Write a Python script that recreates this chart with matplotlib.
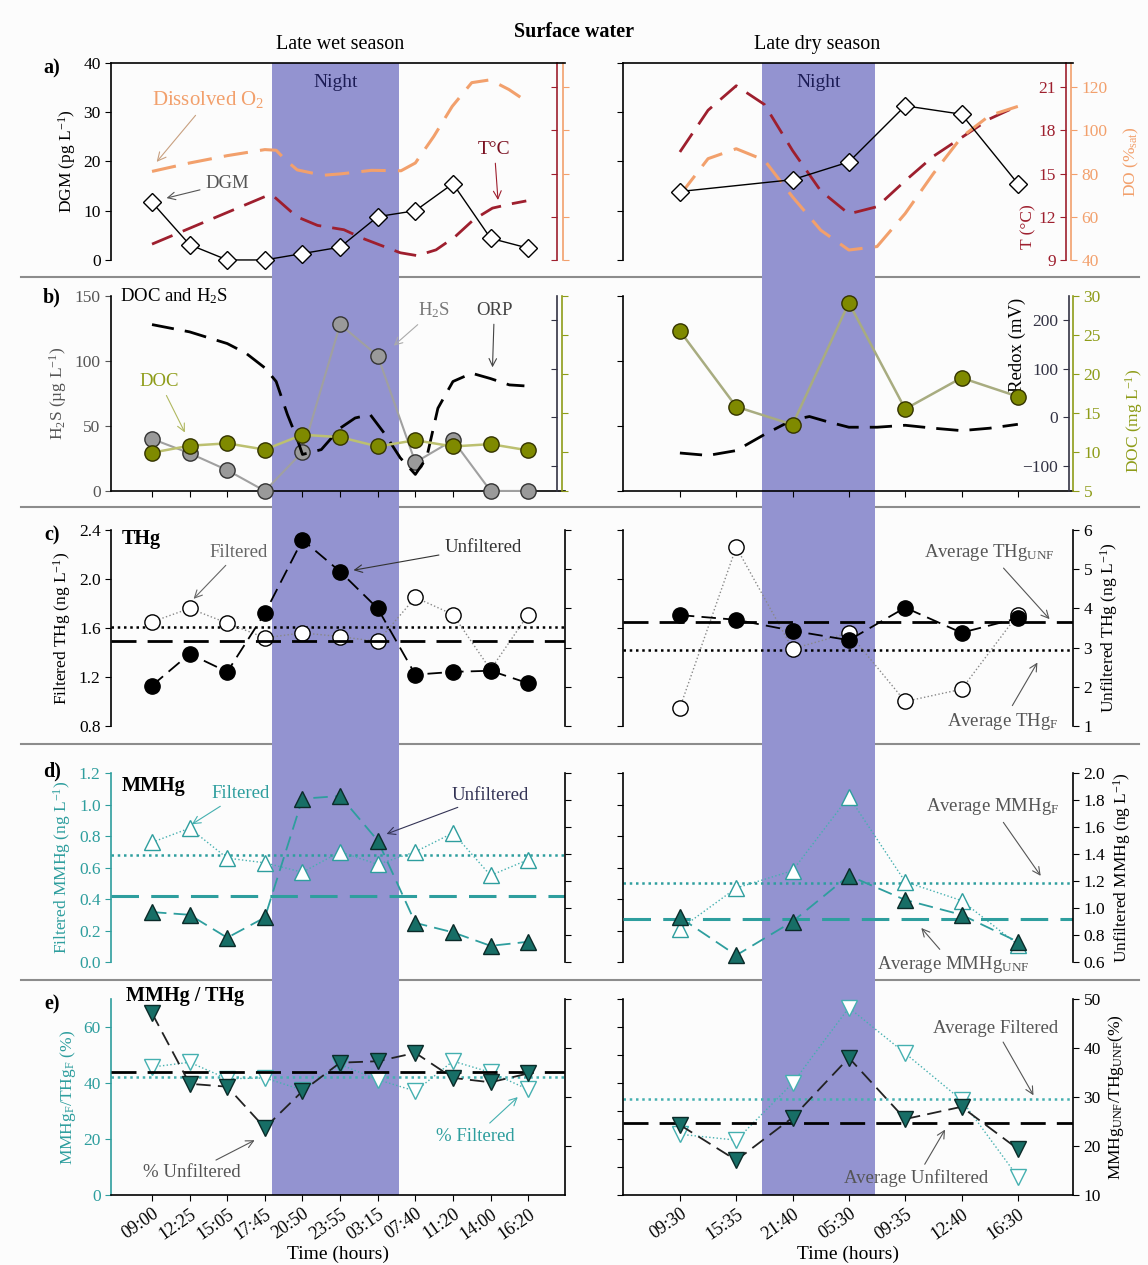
import matplotlib
matplotlib.use('Agg')
import matplotlib.pyplot as plt
import matplotlib.transforms as mtransforms
from matplotlib.patches import Rectangle
from matplotlib.lines import Line2D

# ---------------- data ----------------
wet_times = ['09:00', '12:25', '15:05', '17:45', '20:50', '23:55', '03:15', '07:40', '11:20', '14:00', '16:20']
dry_times = ['09:30', '15:35', '21:40', '05:30', '09:35', '12:40', '16:30']
wet_x = list(range(len(wet_times)))
dry_x = list(range(len(dry_times)))

# a) DGM (pg/L), temperature (C), dissolved O2 (% sat)
wet_dgm = [11.7, 3.1, 0.0, 0.0, 1.3, 2.6, 8.8, 10.0, 15.5, 4.4, 2.4]
dry_dgm_x = [0, 2, 3, 4, 5, 6]
dry_dgm = [13.9, 16.3, 19.9, 31.3, 29.6, 15.5]
wet_temp_x = [0, 1, 2, 3, 3.2, 3.85, 4.4, 5.1, 5.6, 6.1, 6.6, 7.05, 7.55, 8.05, 8.55, 9.05, 9.55, 9.95]
wet_temp = [10.1, 11.2, 12.3, 13.4, 13.5, 12.0, 11.4, 11.1, 10.5, 10.0, 9.5, 9.3, 9.7, 10.6, 11.8, 12.6, 12.9, 13.1]
wet_do_x = [0, 1, 2, 3, 3.3, 3.55, 3.86, 4.54, 5.04, 5.83, 6.62, 7.0, 7.49, 7.98, 8.5, 8.99, 9.49, 9.9]
wet_do = [81.0, 84.9, 88.3, 91.1, 90.8, 86.3, 81.7, 79.2, 79.9, 81.5, 81.3, 84.9, 97.2, 111.1, 122.1, 123.4, 118.9, 114.1]
dry_temp_x = [0, 0.5, 1, 1.5, 2, 2.5, 3, 3.5, 4, 4.5, 5, 5.5, 6]
dry_temp = [16.5, 19.4, 21.1, 19.8, 16.6, 13.8, 12.2, 12.7, 14.5, 16.2, 17.5, 18.8, 19.7]
dry_do_x = [0, 0.5, 1, 1.5, 2, 2.5, 3, 3.5, 4, 4.5, 5, 5.5, 6]
dry_do = [70, 86.9, 91.5, 86.2, 69.2, 53.8, 44.6, 46.2, 61.5, 80, 96.9, 106.9, 111.1]

# b) H2S (ug/L), DOC (mg/L), ORP (mV)
wet_h2s = [40, 29, 16, 0, 30, 128, 104, 22, 39, 0, 0]
wet_doc = [9.9, 10.8, 11.1, 10.3, 12.2, 11.9, 10.7, 11.5, 10.7, 11.0, 10.2]
wet_orp_x = [0, 1, 2, 2.5, 3, 3.3, 3.6, 3.85, 4, 4.5, 5, 5.4, 5.8, 6.2, 6.6, 7, 7.3, 7.6, 8, 8.5, 9, 9.5, 9.9]
wet_orp = [191, 176, 152, 132, 102, 74, 6, -42, -76, -66, -22, -1, 6, -35, -83, -117, -83, 19, 74, 91, 80, 67, 65]
dry_doc = [25.5, 15.8, 13.5, 29.1, 15.5, 19.5, 17.1]
dry_orp_x = [0, 0.5, 1, 1.5, 2, 2.3, 2.6, 3, 3.5, 4, 4.5, 5, 5.5, 6]
dry_orp = [-73, -78, -68, -35, -5, 2, -8, -20, -20, -16, -22, -27, -22, -14]

# c) THg (ng/L)
wet_thg_f = [1.65, 1.76, 1.64, 1.52, 1.56, 1.53, 1.49, 1.85, 1.71, 1.26, 1.71]
wet_thg_unf = [2.03, 2.84, 2.38, 3.88, 5.75, 4.94, 4.00, 2.31, 2.38, 2.41, 2.09]
wet_thg_f_avg = 1.61
wet_thg_unf_avg = 3.16
dry_thg_f = [0.95, 2.26, 1.43, 1.56, 1.00, 1.10, 1.71]
dry_thg_unf = [3.83, 3.71, 3.43, 3.19, 4.02, 3.38, 3.75]
dry_thg_f_avg = 1.42
dry_thg_unf_avg = 3.65

# d) MMHg (ng/L)
wet_mmhg_f = [0.76, 0.85, 0.66, 0.63, 0.57, 0.70, 0.62, 0.70, 0.82, 0.55, 0.65]
wet_mmhg_unf = [0.97, 0.95, 0.78, 0.93, 1.81, 1.83, 1.50, 0.89, 0.82, 0.72, 0.75]
wet_mmhg_f_avg = 0.68
wet_mmhg_unf_avg = 1.09
dry_mmhg_f = [0.21, 0.47, 0.58, 1.05, 0.51, 0.39, 0.11]
dry_mmhg_unf = [0.93, 0.65, 0.90, 1.24, 1.06, 0.95, 0.75]
dry_mmhg_f_avg = 0.50
dry_mmhg_unf_avg = 0.92

# e) MMHg / THg (%)
wet_ratio_f = [45.7, 47.4, 41.5, 41.8, 37.5, 46.6, 41.2, 37.1, 47.8, 43.8, 37.7]
wet_ratio_unf = [47.1, 32.7, 32.1, 23.7, 31.2, 37.0, 37.3, 39.0, 33.9, 33.0, 34.8]
wet_ratio_f_avg = 42.2
wet_ratio_unf_avg = 35.1
dry_ratio_f = [21.7, 19.6, 39.9, 66.9, 50.6, 33.9, 6.5]
dry_ratio_unf = [24.3, 17.1, 25.8, 38.0, 25.5, 28.0, 19.4]
dry_ratio_f_avg = 34.3
dry_ratio_unf_avg = 24.6

night_wet = (3.2, 6.57)
night_dry = (1.46, 3.46)

# ---------------- style ----------------
plt.rcParams['font.family'] = 'Liberation Serif'
plt.rcParams['mathtext.fontset'] = 'custom'
plt.rcParams['mathtext.rm'] = 'Liberation Serif'
plt.rcParams['mathtext.it'] = 'Liberation Serif:italic'
plt.rcParams['mathtext.bf'] = 'Liberation Serif:bold'
plt.rcParams['mathtext.default'] = 'regular'
plt.rcParams['font.size'] = 12.5
plt.rcParams['axes.linewidth'] = 1.2
plt.rcParams['xtick.major.size'] = 4
plt.rcParams['ytick.major.size'] = 4

BAND = '#9393d0'
TEAL = '#2e9e9e'
TEAL_D = '#176e66'
TEAL_L = '#45b0b0'
OLIVE = '#7f8a00'
OLIVE_T = '#8e9c18'
ORANGE = '#f2a06c'
DRED = '#9e1f2e'
DASH = (0, (8, 4))
TXT = 13.5

fig = plt.figure(figsize=(11.48, 12.65), dpi=100)
fig.patch.set_facecolor('#fcfcfc')

LX, LW = 0.0967, 0.3955
RX, RW = 0.5427, 0.392
rows = {'a': (0.7945, 0.1557), 'b': (0.6119, 0.1542), 'c': (0.4261, 0.1549),
        'd': (0.2395, 0.1494), 'e': (0.0553, 0.155)}


def make_ax(col, row):
    x0, w = (LX, LW) if col == 0 else (RX, RW)
    y0, h = rows[row]
    ax = fig.add_axes([x0, y0, w, h])
    ax.set_facecolor('none')
    ax.set_xlim((-1.09, 10.98) if col == 0 else (-1.01, 6.98))
    for s in ['top', 'right', 'bottom']:
        ax.spines[s].set_visible(False)
    ax.set_xticks([])
    if col == 1:
        ax.tick_params(axis='y', labelleft=False)
    return ax


def side_axis(ax, pos, side, color, ylim, ticks, labels_on, fmt=None):
    tw = ax.twinx()
    for s in tw.spines.values():
        s.set_visible(False)
    sp = tw.spines[side]
    sp.set_visible(True)
    sp.set_position(('axes', pos))
    sp.set_color(color)
    if side == 'left':
        tw.yaxis.tick_left()
    else:
        tw.yaxis.tick_right()
    tw.set_ylim(ylim)
    tw.set_yticks(ticks)
    if fmt:
        tw.set_yticklabels([fmt.format(t) for t in ticks])
    tw.tick_params(axis='y', colors=color,
                   labelleft=labels_on and side == 'left',
                   labelright=labels_on and side == 'right')
    return tw


def arrow(ax, text, xy, xytext, color='black', tcolor=None, size=TXT, **kw):
    ax.annotate(text, xy=xy, xytext=xytext, color=tcolor or color, fontsize=size,
                ha=kw.pop('ha', 'center'), va=kw.pop('va', 'center'),
                arrowprops=dict(arrowstyle='->', color=color, lw=0.8, shrinkA=2, shrinkB=1), **kw)


mk = dict(clip_on=False, zorder=5)

# ---------------- a) ----------------
for col in (0, 1):
    ax = make_ax(col, 'a')
    ax.spines['top'].set_visible(True)
    ax.set_ylim(0, 40)
    ax.set_yticks([0, 10, 20, 30, 40])
    pos_t, pos_do = (0.982, 0.996) if col == 0 else (0.985, 0.996)
    tw_t = side_axis(ax, pos_t, 'left', DRED, (9, 22.68), [9, 12, 15, 18, 21], col == 1)
    tw_do = side_axis(ax, pos_do, 'right', ORANGE, (40, 131.2), [40, 60, 80, 100, 120], col == 1)
    ax.set_zorder(3)
    if col == 0:
        ax.set_ylabel('DGM (pg L$^{-1}$)')
        tw_t.plot(wet_temp_x, wet_temp, color=DRED, lw=2, ls=DASH)
        tw_do.plot(wet_do_x, wet_do, color=ORANGE, lw=2.2, ls=DASH)
        ax.plot(wet_x, wet_dgm, color='black', lw=1, marker='D', ms=9, mfc='white', mec='black', **mk)
        arrow(ax, 'Dissolved O$_2$', (0.1, 19.7), (1.5, 32.5), color='#c8a080', tcolor=ORANGE, size=15)
        arrow(ax, 'DGM', (0.35, 12.5), (2.0, 15.6), color='#555555')
        arrow(ax, 'T°C', (9.2, 11.9), (9.1, 22.5), color=DRED, tcolor='#7a1020', size=14)
        ax.text(4.88, 36, 'Night', ha='center', va='center', fontsize=14, color='#1c1c55')
    else:
        tw_t.plot(dry_temp_x, dry_temp, color=DRED, lw=2, ls=DASH)
        tw_do.plot(dry_do_x, dry_do, color=ORANGE, lw=2.2, ls=DASH)
        ax.plot(dry_dgm_x, dry_dgm, color='black', lw=1, marker='D', ms=9, mfc='white', mec='black', **mk)
        ax.text(2.46, 36, 'Night', ha='center', va='center', fontsize=14, color='#1c1c55')
        ax.text(0.9, 0.17, 'T (°C)', transform=ax.transAxes, rotation=90, ha='center', va='center', color=DRED)
        ax.text(1.13, 0.5, 'DO (%$_{sat}$)', transform=ax.transAxes, rotation=90, ha='center', va='center', color=ORANGE)

# ---------------- b) ----------------
for col in (0, 1):
    ax = make_ax(col, 'b')
    ax.spines['bottom'].set_visible(True)
    n = len(wet_x) if col == 0 else len(dry_x)
    ax.set_xticks(range(n))
    ax.tick_params(axis='x', labelbottom=False)
    ax.set_ylim(0, 150)
    ax.set_yticks([0, 50, 100, 150])
    pos_r, pos_d = (0.982, 0.994) if col == 0 else (0.99, 1.0)
    tw_r = side_axis(ax, pos_r, 'left', '#333344', (-151, 250), [-100, 0, 100, 200], col == 1)
    tw_d = side_axis(ax, pos_d, 'right', OLIVE_T, (5, 30), [5, 10, 15, 20, 25, 30], col == 1)
    if col == 0:
        ax.tick_params(axis='y', colors='#555555')
        ax.set_ylabel('H$_2$S (µg L$^{-1}$)', color='#555555')
        ax.plot(wet_x, wet_h2s, color='#a0a0a0', lw=1.5, marker='o', ms=11, mfc='#9a9a9a', mec='#333333', **mk)
        tw_d.plot(wet_x, wet_doc, color='#bcc070', lw=1.8, marker='o', ms=11, mfc=OLIVE, mec='#333300', clip_on=False, zorder=6)
        tw_r.plot(wet_orp_x, wet_orp, color='black', lw=2, ls=DASH, zorder=7)
        ax.text(-0.85, 150, 'DOC and H$_2$S', ha='left', va='center', fontsize=TXT)
        arrow(ax, 'H$_2$S', (6.4, 111), (7.5, 139), color='#aaaaaa', tcolor='#777777')
        arrow(ax, 'ORP', (9.05, 94), (9.1, 139), color='#444444')
        arrow(ax, 'DOC', (0.89, 44), (0.2, 84), color='#b0b860', tcolor=OLIVE_T)
    else:
        tw_d.plot(dry_x, dry_doc, color='#a8ac80', lw=1.8, marker='o', ms=11, mfc=OLIVE, mec='#333300', clip_on=False, zorder=6)
        tw_r.plot(dry_orp_x, dry_orp, color='black', lw=2, ls=DASH, zorder=7)
        ax.text(0.876, 0.75, 'Redox (mV)', transform=ax.transAxes, rotation=90, ha='center', va='center', fontsize=TXT)
        ax.text(1.135, 0.36, 'DOC (mg L$^{-1}$)', transform=ax.transAxes, rotation=90, ha='center', va='center', color=OLIVE_T)

# ---------------- c) ----------------
for col in (0, 1):
    ax = make_ax(col, 'c')
    ax.set_ylim(0.8, 2.4)
    ax.set_yticks([0.8, 1.2, 1.6, 2.0, 2.4])
    ax.set_yticklabels(['0.8', '1.2', '1.6', '2.0', '2.4'])
    tw = side_axis(ax, 1.0, 'right', 'black', (1, 6), [1, 2, 3, 4, 5, 6], col == 1)
    if col == 0:
        ax.set_ylabel('Filtered THg (ng L$^{-1}$)')
        ax.axhline(wet_thg_f_avg, color='black', lw=1.8, ls=(0, (1, 1.5)))
        tw.axhline(wet_thg_unf_avg, color='black', lw=2, ls=(0, (9, 4)))
        ax.plot(wet_x, wet_thg_f, color='#888888', lw=1, ls=':', marker='o', ms=11, mfc='white', mec='black', **mk)
        tw.plot(wet_x, wet_thg_unf, color='black', lw=1.3, ls=(0, (8, 4)), marker='o', ms=11, mfc='black', mec='black', **mk)
        ax.text(-0.8, 2.33, 'THg', ha='left', va='center', fontsize=14.5, weight='bold')
        arrow(ax, 'Filtered', (1.08, 1.83), (2.3, 2.22), color='#666666')
        arrow(ax, 'Unfiltered', (5.32, 2.07), (8.8, 2.26), color='#333333')
    else:
        tw.set_ylabel('Unfiltered THg (ng L$^{-1}$)')
        ax.axhline(dry_thg_f_avg, color='black', lw=1.8, ls=(0, (1, 1.5)))
        tw.axhline(dry_thg_unf_avg, color='black', lw=2, ls=(0, (9, 4)))
        ax.plot(dry_x, dry_thg_f, color='#888888', lw=1, ls=':', marker='o', ms=11, mfc='white', mec='black', **mk)
        tw.plot(dry_x, dry_thg_unf, color='black', lw=1.3, ls=(0, (8, 4)), marker='o', ms=11, mfc='black', mec='black', **mk)
        arrow(tw, 'Average THg$_{UNF}$', (6.58, 3.7), (5.5, 5.42), color='#555555')
        arrow(tw, 'Average THg$_F$', (6.36, 2.65), (5.74, 1.12), color='#555555')

# ---------------- d) ----------------
for col in (0, 1):
    ax = make_ax(col, 'd')
    ax.set_ylim(0, 1.2)
    yt = [0.0, 0.2, 0.4, 0.6, 0.8, 1.0, 1.2]
    ax.set_yticks(yt)
    ax.set_yticklabels(['{:.1f}'.format(t) for t in yt])
    rt = [0.6, 0.8, 1.0, 1.2, 1.4, 1.6, 1.8, 2.0]
    tw = side_axis(ax, 1.0, 'right', 'black', (0.6, 2.0), rt, col == 1, fmt='{:.1f}')
    if col == 0:
        ax.spines['left'].set_color(TEAL)
        ax.tick_params(axis='y', colors=TEAL)
        ax.set_ylabel('Filtered MMHg (ng L$^{-1}$)', color=TEAL)
        ax.axhline(wet_mmhg_f_avg, color=TEAL, lw=1.8, ls=(0, (1, 1.5)))
        tw.axhline(wet_mmhg_unf_avg, color=TEAL, lw=2.2, ls=(0, (9, 4)))
        ax.plot(wet_x, wet_mmhg_f, color=TEAL_L, lw=1, ls=':', marker='^', ms=11, mfc='white', mec=TEAL, **mk)
        tw.plot(wet_x, wet_mmhg_unf, color=TEAL, lw=1.3, ls=(0, (8, 4)), marker='^', ms=11, mfc=TEAL_D, mec='#0a2a28', **mk)
        ax.text(-0.8, 1.12, 'MMHg', ha='left', va='center', fontsize=14.5, weight='bold')
        arrow(ax, 'Filtered', (1.03, 0.87), (2.35, 1.07), color=TEAL_L, tcolor=TEAL)
        arrow(ax, 'Unfiltered', (6.2, 0.81), (9.0, 1.06), color='#333355')
    else:
        tw.set_ylabel('Unfiltered MMHg (ng L$^{-1}$)')
        ax.axhline(dry_mmhg_f_avg, color=TEAL, lw=1.8, ls=(0, (1, 1.5)))
        tw.axhline(dry_mmhg_unf_avg, color=TEAL, lw=2.2, ls=(0, (9, 4)))
        ax.plot(dry_x, dry_mmhg_f, color=TEAL_L, lw=1, ls=':', marker='^', ms=11, mfc='white', mec=TEAL, **mk)
        tw.plot(dry_x, dry_mmhg_unf, color=TEAL, lw=1.3, ls=(0, (8, 4)), marker='^', ms=11, mfc=TEAL_D, mec='#0a2a28', **mk)
        arrow(tw, 'Average MMHg$_F$', (6.42, 1.23), (5.55, 1.75), color='#555555')
        arrow(tw, 'Average MMHg$_{UNF}$', (4.27, 0.86), (4.85, 0.58), color='#555555')

# ---------------- e) ----------------
for col in (0, 1):
    ax = make_ax(col, 'e')
    ax.spines['bottom'].set_visible(True)
    ax.set_ylim(0, 70)
    tw = side_axis(ax, 1.0, 'right', 'black', (10, 50), [10, 20, 30, 40, 50] if col == 1 else [20, 30, 40, 50], col == 1)
    if col == 0:
        ax.set_yticks([0, 20, 40, 60])
        ax.spines['left'].set_color(TEAL)
        ax.tick_params(axis='y', colors=TEAL)
        ax.set_ylabel('MMHg$_F$/THg$_F$ (%)', color=TEAL)
        ax.set_xticks(wet_x)
        ax.set_xticklabels(wet_times, rotation=35, ha='right', rotation_mode='anchor', fontsize=13)
        ax.axhline(wet_ratio_f_avg, color=TEAL_L, lw=1.8, ls=(0, (1, 1.5)))
        tw.axhline(wet_ratio_unf_avg, color='black', lw=2, ls=(0, (9, 4)))
        ax.plot(wet_x, wet_ratio_f, color=TEAL_L, lw=1, ls=':', marker='v', ms=11, mfc='white', mec=TEAL_L, **mk)
        tw.plot(wet_x, wet_ratio_unf, color='#222222', lw=1.3, ls=(0, (8, 4)), marker='v', ms=11, mfc=TEAL_D, mec='#0a2a28', **mk)
        ax.text(-0.7, 71, 'MMHg / THg', ha='left', va='center', fontsize=14.5, weight='bold')
        arrow(ax, '% Unfiltered', (2.76, 19.8), (1.05, 8), color='#555555')
        arrow(ax, '% Filtered', (9.75, 35.3), (8.6, 21), color=TEAL_L, tcolor=TEAL)
    else:
        ax.set_yticks(range(0, 71, 10))
        tw.set_ylabel('MMHg$_{UNF}$/THg$_{UNF}$(%)')
        ax.set_xticks(dry_x)
        ax.set_xticklabels(dry_times, rotation=35, ha='right', rotation_mode='anchor', fontsize=13)
        ax.axhline(dry_ratio_f_avg, color=TEAL_L, lw=1.8, ls=(0, (1, 1.5)))
        tw.axhline(dry_ratio_unf_avg, color='black', lw=2, ls=(0, (9, 4)))
        ax.plot(dry_x, dry_ratio_f, color=TEAL_L, lw=1, ls=':', marker='v', ms=11, mfc='white', mec=TEAL_L, **mk)
        tw.plot(dry_x, dry_ratio_unf, color='#222222', lw=1.3, ls=(0, (8, 4)), marker='v', ms=11, mfc=TEAL_D, mec='#0a2a28', **mk)
        arrow(tw, 'Average Filtered', (6.29, 30.1), (5.6, 44), color='#555555')
        arrow(tw, 'Average Unfiltered', (4.72, 23.6), (4.2, 13.4), color='#555555')
    ax.set_xlabel('Time (hours)', labelpad=2, fontsize=14)
    if col == 0:
        ax_e_wet = ax
    else:
        ax_e_dry = ax

# ---------------- figure decorations ----------------
top_a = rows['a'][0] + rows['a'][1]
bot_e = rows['e'][0]
for ax_e, (n0, n1) in ((ax_e_wet, night_wet), (ax_e_dry, night_dry)):
    tr = mtransforms.blended_transform_factory(ax_e.transData, fig.transFigure)
    fig.add_artist(Rectangle((n0, bot_e), n1 - n0, top_a - bot_e, transform=tr,
                             facecolor=BAND, edgecolor='none', zorder=-1))

for y in (0.781, 0.5992, 0.4119, 0.2253):
    fig.add_artist(Line2D([0.018, 0.992], [y, y], transform=fig.transFigure, color='#8c8c8c', lw=1.5, zorder=-2))

fig.text(0.5, 0.975, 'Surface water', ha='center', va='center', fontsize=14.5, weight='bold')
fig.text(0.296, 0.9645, 'Late wet season', ha='center', va='center', fontsize=14.5)
fig.text(0.712, 0.9645, 'Late dry season', ha='center', va='center', fontsize=14.5)
for lab, y in (('a)', 0.946), ('b)', 0.765), ('c)', 0.577), ('d)', 0.39), ('e)', 0.206)):
    fig.text(0.045, y, lab, ha='center', va='center', fontsize=14.5, weight='bold')

fig.savefig('out.png', dpi=100, facecolor=fig.get_facecolor())
